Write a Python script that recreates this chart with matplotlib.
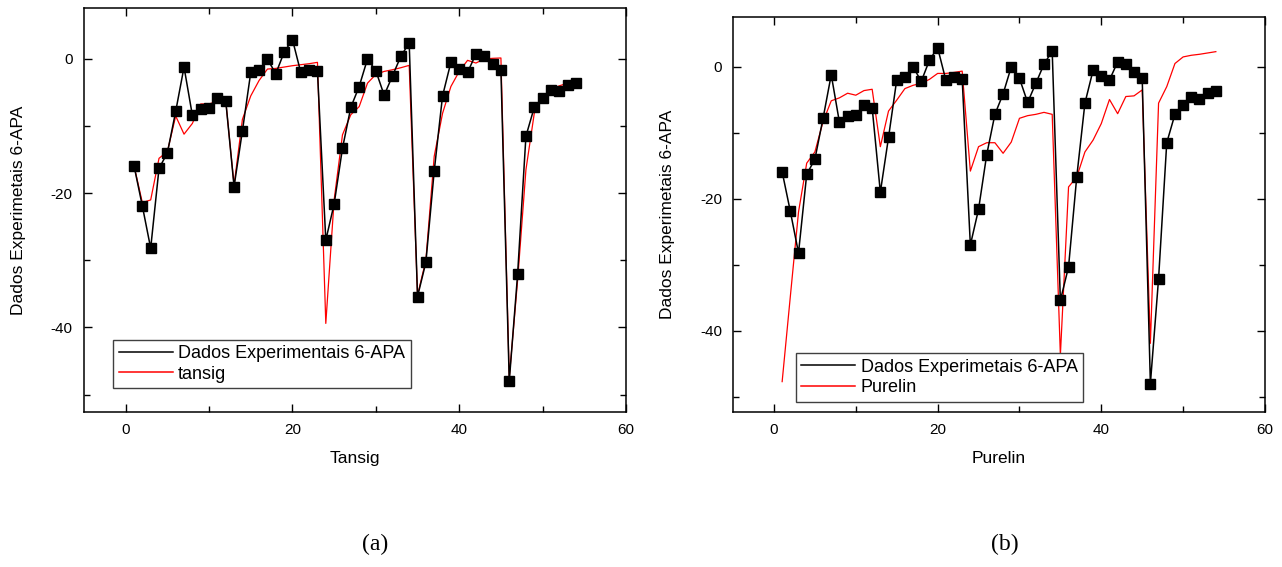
import numpy as np
import matplotlib.pyplot as plt
from matplotlib.ticker import MultipleLocator
from matplotlib.lines import Line2D

plt.rcParams['font.family'] = ['Liberation Sans', 'DejaVu Sans']
plt.rcParams['axes.unicode_minus'] = False

# dados experimentais (mesmos nos dois painéis)
amostra = np.arange(1, 55)
experimental = [
    -15.9, -21.9, -28.2, -16.3, -14.0, -7.8, -1.2, -8.4, -7.4, -7.3,
    -5.8, -6.2, -19.0, -10.7, -2.0, -1.6, 0.0, -2.2, 1.0, 2.9,
    -2.0, -1.6, -1.85, -27.0, -21.6, -13.3, -7.2, -4.1, 0.0, -1.75,
    -5.4, -2.5, 0.4, 2.4, -35.4, -30.3, -16.7, -5.5, -0.5, -1.45,
    -2.0, 0.75, 0.4, -0.8, -1.7, -48.0, -32.1, -11.5, -7.2, -5.8,
    -4.6, -4.8, -3.9, -3.6,
]

tansig = [
    -15.9, -21.4, -21.0, -14.8, -13.8, -8.5, -11.2, -9.6, -6.7, -6.7,
    -6.3, -6.2, -18.8, -9.0, -5.5, -3.2, -1.5, -1.4, -1.2, -1.0,
    -0.85, -0.7, -0.5, -39.4, -21.0, -11.3, -8.3, -7.1, -3.6, -2.3,
    -1.85, -1.6, -1.3, -0.95, -35.2, -30.0, -14.5, -8.1, -4.1, -1.85,
    -0.2, -0.6, 0.0, 0.1, 0.15, -47.5, -33.0, -16.5, -8.1, -5.8,
    -4.6, -4.0, -3.6, -3.5,
]

purelin = [
    -47.7, -34.8, -22.0, -14.6, -12.9, -8.3, -5.15, -4.7, -4.0, -4.3,
    -3.6, -3.4, -12.1, -6.7, -5.05, -3.3, -2.8, -2.5, -1.9, -1.0,
    -1.0, -0.85, -0.65, -15.8, -12.1, -11.5, -11.5, -13.1, -11.4, -7.8,
    -7.4, -7.2, -6.9, -7.2, -43.7, -18.2, -16.7, -12.9, -11.1, -8.6,
    -4.95, -7.1, -4.5, -4.4, -3.5, -41.9, -5.5, -3.0, 0.5, 1.5,
    1.75, 1.9, 2.1, 2.3,
]

fig = plt.figure(figsize=(12.82, 5.67), dpi=100)
ax1 = fig.add_axes([0.0655, 0.2734, 0.4228, 0.7125])
ax2 = fig.add_axes([0.5718, 0.2734, 0.4149, 0.6972])


def painel(ax, modelo, nome_exp, nome_leg, nome_x, leg_pos, ylim):
    ax.plot(amostra, experimental, color='black', lw=1.1, marker='s',
            markersize=7, markerfacecolor='black', zorder=3)
    ax.plot(amostra, modelo, color='red', lw=0.9, zorder=2)
    ax.set_xlim(-5, 60)
    ax.set_ylim(*ylim)
    ax.xaxis.set_major_locator(MultipleLocator(20))
    ax.xaxis.set_minor_locator(MultipleLocator(10))
    ax.yaxis.set_major_locator(MultipleLocator(20))
    ax.yaxis.set_minor_locator(MultipleLocator(10))
    ax.tick_params(which='both', direction='in', top=True, right=True,
                   labelsize=11, width=1)
    ax.tick_params(which='major', length=6, pad=8)
    ax.tick_params(which='minor', length=4)
    for s in ax.spines.values():
        s.set_linewidth(1.1)
    ax.set_xlabel(nome_x, fontsize=12.5, labelpad=10)
    ax.set_ylabel('Dados Experimetais 6-APA', fontsize=12.5, labelpad=18)
    handles = [Line2D([], [], color='black', lw=1.1),
               Line2D([], [], color='red', lw=1.1)]
    leg = ax.legend(handles, [nome_exp, nome_leg], loc='lower left',
                    bbox_to_anchor=leg_pos, borderaxespad=0,
                    fancybox=False, edgecolor='#404040', fontsize=13,
                    handlelength=3.0, handletextpad=0.3, labelspacing=0.2,
                    borderpad=0.3, framealpha=1)
    leg.get_frame().set_linewidth(1.0)


painel(ax1, tansig, 'Dados Experimentais 6-APA', 'tansig', 'Tansig',
       (0.054, 0.059), (-52.6, 7.6))
painel(ax2, purelin, 'Dados Experimetais 6-APA', 'Purelin', 'Purelin',
       (0.118, 0.026), (-52.3, 7.6))

fig.text(0.2925, 0.03, '(a)', fontsize=17, family='Liberation Serif', ha='center')
fig.text(0.784, 0.03, '(b)', fontsize=17, family='Liberation Serif', ha='center')

fig.savefig('out.png', dpi=100)
